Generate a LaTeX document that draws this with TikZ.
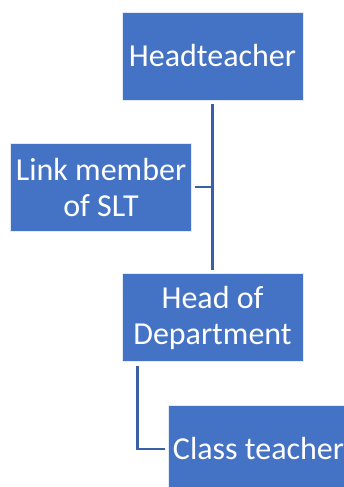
\documentclass[tikz,border=0pt]{standalone}
\usepackage{fontspec}
\setmainfont{Carlito}
\usetikzlibrary{calc}
\definecolor{boxblue}{RGB}{68,114,196}
\definecolor{linkblue}{RGB}{58,94,168}
\begin{document}
\begin{tikzpicture}[x=1pt,y=-1pt,
  orgbox/.style={rectangle, fill=boxblue, draw=white!85!boxblue, line width=0.8pt,
    minimum width=181pt, minimum height=88pt, inner sep=0pt,
    text=white, align=center, font=\fontsize{32}{36}\selectfont},
  tie/.style={draw=linkblue, line width=2.5pt}]
  \useasboundingbox (0,0) rectangle (344,487);
  \clip (0,0) rectangle (344,487);

  % staff boxes
  \node[orgbox] (ht)   at (212.5,56)  {Headteacher};
  \node[orgbox] (slt)  at (101,187)   {Link member\\of SLT};
  \node[orgbox] (hod)  at (212.5,317.5) {Head of\\Department};
  \node[orgbox] (ct)   at (258.5,449) {Class teacher};

  % reporting lines
  \draw[tie, shorten <=4pt, shorten >=3pt] (ht.south) -- (hod.north);
  \draw[tie, shorten <=3pt] (slt.east) -- (slt.east -| ht.south);
  \coordinate (hodleg) at ($(hod.south west)+(16,0)$);
  \draw[tie, shorten <=4pt, shorten >=3pt] (hodleg) -- (hodleg |- ct.west) -- (ct.west);
\end{tikzpicture}
\end{document}
